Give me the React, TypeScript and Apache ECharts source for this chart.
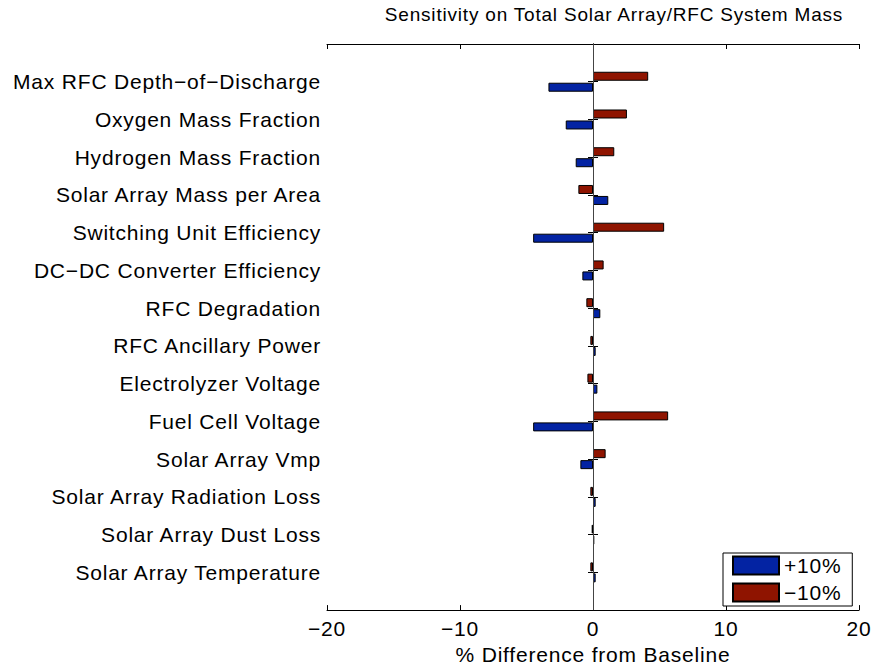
import React, { useEffect, useRef } from "react";
import * as echarts from "echarts";

// Parameters, top to bottom
const parameters = [
  "Max RFC Depth\u2212of\u2212Discharge",
  "Oxygen Mass Fraction",
  "Hydrogen Mass Fraction",
  "Solar Array Mass per Area",
  "Switching Unit Efficiency",
  "DC\u2212DC Converter Efficiency",
  "RFC Degradation",
  "RFC Ancillary Power",
  "Electrolyzer Voltage",
  "Fuel Cell Voltage",
  "Solar Array Vmp",
  "Solar Array Radiation Loss",
  "Solar Array Dust Loss",
  "Solar Array Temperature",
];

// % change in total system mass for a +10% change in each parameter
const plusTen = [-3.35, -2.05, -1.3, 1.15, -4.5, -0.8, 0.55, 0.2, 0.33, -4.5, -0.95, 0.2, 0.1, 0.2];
// % change in total system mass for a -10% change in each parameter
const minusTen = [4.15, 2.55, 1.6, -1.1, 5.35, 0.8, -0.5, -0.2, -0.42, 5.65, 0.95, -0.2, -0.1, -0.2];

const xTicks = { min: -20, max: 20, interval: 10 };

const FONT = "'Liberation Sans', Arial, Helvetica, sans-serif";
const BLUE = "#0323a3";
const RED = "#8f1400";

// Blank slots above and below keep a half-slot margin like MATLAB's ylim [0, 15]
const slots = ["", ...parameters, ""];
const pad = (arr: number[]) => [null, ...arr, null];

export default function App() {
  const ref = useRef<HTMLDivElement>(null);

  useEffect(() => {
    if (!ref.current) return;
    const chart = echarts.init(ref.current, null, { renderer: "svg" });
    const minus = (v: number | string) => String(v).replace("-", "\u2212");

    chart.setOption({
      animation: false,
      backgroundColor: "#fff",
      textStyle: { fontFamily: FONT, color: "#000" },
      title: {
        text: "Sensitivity on Total Solar Array/RFC System Mass",
        left: 609,
        textAlign: "center",
        top: 0,
        textStyle: { fontFamily: FONT, fontSize: 19, fontWeight: "normal", color: "#000" },
      },
      legend: {
        data: ["+10%", "\u221210%"],
        orient: "vertical",
        left: 723,
        top: 553,
        itemWidth: 46,
        itemHeight: 18,
        itemGap: 6,
        padding: [2, 14, 3, 9],
        backgroundColor: "#fff",
        borderColor: "#000",
        borderWidth: 1,
        borderRadius: 0,
        icon: "rect",
        textStyle: { fontFamily: FONT, fontSize: 21, color: "#000" },
      },
      grid: { left: 327, right: 16, top: 44, bottom: 55, containLabel: false },
      xAxis: [
        {
          type: "value",
          position: "bottom",
          ...xTicks,
          name: "% Difference from Baseline",
          nameLocation: "middle",
          nameGap: 33,
          nameTextStyle: { fontFamily: FONT, fontSize: 21, color: "#000" },
          axisLine: { show: true, lineStyle: { color: "#000", width: 1 } },
          axisTick: { show: true, inside: true, length: 5, lineStyle: { color: "#000" } },
          axisLabel: {
            fontFamily: FONT,
            fontSize: 21,
            color: "#000",
            margin: 8,
            formatter: minus,
          },
          splitLine: { show: false },
        },
        {
          type: "value",
          position: "top",
          ...xTicks,
          axisLine: { show: true, lineStyle: { color: "#000", width: 1 } },
          axisTick: { show: true, inside: true, length: 5, lineStyle: { color: "#000" } },
          axisLabel: { show: false },
          splitLine: { show: false },
        },
      ],
      yAxis: [
        {
          type: "category",
          data: slots,
          inverse: true,
          boundaryGap: false,
          position: "left",
          axisLine: { show: true, lineStyle: { color: "#000", width: 1 } },
          axisTick: { show: true, inside: true, length: 5, interval: 0, lineStyle: { color: "#000" } },
          axisLabel: {
            interval: 0,
            fontFamily: FONT,
            fontSize: 21,
            color: "#000",
            margin: 6,
            padding: [5, 0, 0, 0],
          },
          splitLine: { show: false },
        },
        {
          type: "category",
          data: slots,
          inverse: true,
          boundaryGap: false,
          position: "right",
          axisLine: { show: true, lineStyle: { color: "#000", width: 1 } },
          axisTick: { show: true, inside: true, length: 5, interval: 0, lineStyle: { color: "#000" } },
          axisLabel: { show: false },
          splitLine: { show: false },
        },
      ],
      series: [
        {
          name: "\u221210%",
          type: "bar",
          data: pad(minusTen),
          barWidth: 9,
          barGap: "22%",
          itemStyle: { color: RED, borderColor: "#000", borderWidth: 1 },
          markLine: {
            silent: true,
            symbol: "none",
            label: { show: false },
            lineStyle: { color: "#444", width: 1, type: "solid" },
            data: [{ xAxis: 0 }],
          },
          z: 3,
        },
        {
          name: "+10%",
          type: "bar",
          data: pad(plusTen),
          barWidth: 9,
          barGap: "22%",
          itemStyle: { color: BLUE, borderColor: "#000", borderWidth: 1 },
          z: 3,
        },
      ],
    });

    return () => chart.dispose();
  }, []);

  return (
    <div
      ref={ref}
      style={{
        position: "fixed",
        left: 0,
        top: 0,
        width: 875,
        height: 670,
        letterSpacing: "0.8px",
      }}
    />
  );
}
